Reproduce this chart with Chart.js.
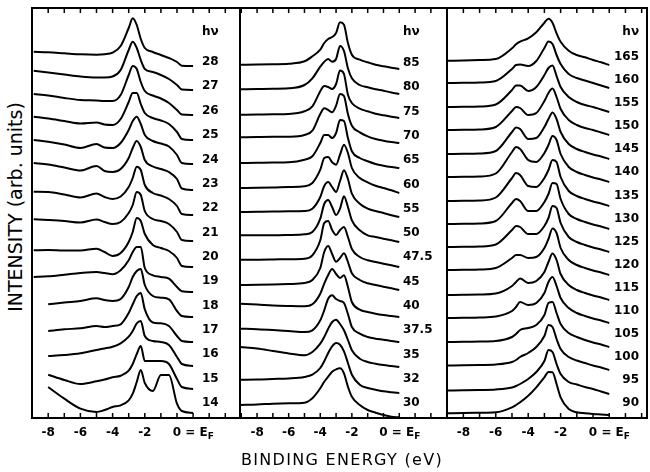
<!DOCTYPE html>
<html>
<head>
<meta charset="utf-8">
<script src="https://cdn.jsdelivr.net/npm/chart.js@4.4.1/dist/chart.umd.min.js"></script>
<style>
  body { margin: 0; background: #fff; }
  #fig { position: relative; width: 650px; height: 472px; background: #fff; overflow: hidden; }
  .panel { position: absolute; top: 6px; }
  #ytitle { position: absolute; left: 15px; top: 207px; transform: translate(-50%, -50%) rotate(-90deg);
            font: 19px 'DejaVu Sans'; white-space: nowrap; color: #000; }
  #xtitle { position: absolute; left: 342px; top: 459px; transform: translate(-50%, -50%);
            font: 16px 'DejaVu Sans'; letter-spacing: 1.3px; white-space: nowrap; color: #000; }
</style>
</head>
<body>
<div id="fig">
  <div class="panel" style="left:30px"><canvas id="p1" width="212" height="452"></canvas></div>
  <div class="panel" style="left:238px"><canvas id="p2" width="211" height="452"></canvas></div>
  <div class="panel" style="left:445px"><canvas id="p3" width="204" height="452"></canvas></div>
  <div id="ytitle">INTENSITY (arb. units)</div>
  <div id="xtitle">BINDING ENERGY (eV)</div>
</div>
<script>
const p1Energy = [-8.9, -8, -7, -6, -5, -4.5, -4, -3.5, -3, -2.75, -2.5, -2.25, -2, -1.5, -1, -0.5, 0, 0.3, 1];
const p2Energy = [-9.05, -8, -7, -6, -5, -4.5, -4, -3.75, -3.5, -3.25, -3, -2.75, -2.5, -2.25, -2, -1.5, -1, -0.5, 0, 0.5, 1];
const p3Energy = [-8.95, -8, -7, -6, -5, -4.75, -4.5, -4, -3.5, -3, -2.75, -2.5, -2.25, -2, -1.5, -1, -0.5, 0, 0.5, 1];

// photon energies, top to bottom
const p1Photon = ['28', '27', '26', '25', '24', '23', '22', '21', '20', '19', '18', '17', '16', '15', '14'];
const p2Photon = ['85', '80', '75', '70', '65', '60', '55', '50', '47.5', '45', '40', '37.5', '35', '32', '30'];
const p3Photon = ['165', '160', '155', '150', '145', '140', '135', '130', '125', '120', '115', '110', '105', '100', '95', '90'];

// vertical offset of each spectrum (arb. units)
const p1Offset = [352, 328, 303, 278, 254, 228, 203, 177, 151, 126, 101, 76, 52, 29, 5];
const p2Offset = [349, 324, 300, 275, 250, 225, 201, 176, 151, 128, 101, 76, 51, 25, 0];
const p3Offset = [353, 330, 306, 283, 259, 236, 212, 189, 166, 143, 118, 95, 71, 48, 24, 3];

// intensities (arb. units) on the energy grids above
const p1Spectra = [
  [14.3, 13.7, 12.7, 11.7, 11.3, 11.7, 13.3, 20, 38, 47.7, 41, 27, 18, 14, 11, 8, 4, 0.3, 0],       // 28
  [19.3, 17.5, 15.5, 13.5, 12.5, 12.5, 13.5, 20, 40, 48.3, 42, 30, 21, 18, 15, 11, 5, 0.5, 0],      // 27
  [21, 19.5, 17, 15, 14.5, 14, 14, 20, 40, 49, 46, 33, 24, 19.5, 16.5, 12, 5, 0.5, 0],              // 26
  [23.3, 21.5, 19, 16.5, 17.5, 15.5, 15, 21, 38, 47, 47, 36, 27, 22, 19.5, 16, 8, 1, 0],            // 25
  [24, 22.3, 19.5, 16, 20, 16.5, 16, 21, 34, 43, 47.3, 40, 29, 23, 20.5, 17.5, 9, 1, 0],            // 24
  [27, 25.5, 22.5, 19.5, 24, 19, 18, 21, 32, 42, 49, 43, 30, 23.5, 21, 18, 11, 1.5, 0],             // 23
  [23.3, 23, 20.5, 17.5, 21.5, 18, 16, 18.5, 28, 37, 48.3, 45, 30, 22, 19.5, 16, 9, 1, 0],          // 22
  [21.7, 21, 20, 18.5, 21.5, 19, 17, 19, 28, 36, 49, 46, 30, 22, 20, 17, 9, 1, 0],                  // 21
  [16.7, 17, 16.5, 16.5, 18.3, 15, 11, 14, 25, 35, 49, 46, 33, 22, 19, 16, 9, 1, 0],                // 20
  [15, 15.7, 17.3, 19, 20, 19, 17.7, 21.7, 31.7, 40, 45, 45, 24, 16.7, 15, 13.3, 5, 0.7, 0],        // 19
  [null, 12.7, 14.5, 16, 18.7, 17, 16, 18, 30, 40, 46, 48, 32, 21, 19.3, 17.7, 6, 1, 0],            // 18
  [null, 11, 12.7, 13.7, 16, 15, 16, 17.7, 29, 37.7, 46, 49, 32.7, 19.5, 18.7, 16, 6, 1, 0],        // 17
  [null, 10, 11, 12.7, 16, 17.5, 19.3, 22.7, 29.3, 35, 42.7, 45, 30, 25, 24, 21, 9, 2, 0],          // 16
  [null, 14.3, 9, 5, 7.7, 9.5, 11.7, 13.3, 18.3, 25, 35, 43, 28, 28, 28, 25, 10, 2, 0],             // 15
  [null, 26, 14.3, 4.3, 1, 3, 6, 7.7, 12.7, 19.3, 31, 43, 30, 22, 38, 38, 9.3, 2, 0]                // 14
];

const p2Spectra = [
  [4.3, 4.5, 4.8, 5.3, 7.7, 12.7, 19.3, 26, 30, 32, 36, 46.7, 44.3, 26, 14.3, 9.3, 6.7, 4.3, 2.7, 1.3, 0],   // 85
  [4.7, 5, 5.3, 5.7, 9, 15.7, 27.3, 32.3, 35, 32.3, 35, 48, 43, 25.7, 15.7, 9, 6.7, 4.7, 3.3, 1.5, 0],       // 80
  [3.3, 3.5, 3.7, 4, 6.7, 11.7, 26.7, 32, 31, 29, 34, 47.5, 44, 23.3, 15, 9.3, 6.7, 4.3, 2.7, 1.3, 0],       // 75
  [5.7, 6, 6.2, 6.3, 8, 12.3, 29, 34.7, 33, 30.7, 37.3, 49, 47, 29, 17.3, 10.7, 6.7, 4, 2.3, 1, 0],          // 70
  [5, 5.2, 5.4, 5.7, 8.3, 11.7, 25, 33, 33, 30, 35, 48, 47, 30, 16.7, 10, 6.7, 4, 2.3, 1, 0],                // 65
  [5, 5.2, 5.5, 6, 6.7, 10, 23.3, 35, 36, 30.7, 28.3, 38.3, 48.3, 40, 25, 15, 10.7, 7.3, 5, 2.7, 0],         // 60
  [5, 5.2, 5.4, 5.7, 6, 8.3, 20, 31, 35, 30, 25, 36, 46.7, 38, 23.3, 13.3, 8.3, 6, 4, 1.7, 0],               // 55
  [6.7, 6.7, 6.7, 7, 7.7, 10, 23.3, 38, 42, 35, 27, 33.3, 45.7, 35, 21.7, 11.7, 6.7, 5, 3.3, 1.7, 0],        // 50
  [7.3, 7.3, 7.5, 7.8, 8.3, 11.7, 26.7, 44, 46, 37, 32, 37, 40, 30, 18, 10, 6.7, 5, 3.3, 1.7, 0],            // 47.5
  [5, 5.2, 5.5, 6, 7, 10, 22, 38, 44, 36, 28.3, 32, 36.7, 28, 16.7, 10, 6.7, 5, 3.3, 1.7, 0],                // 45
  [13.3, 12.5, 11.5, 11, 10.7, 12.7, 23.3, 33.3, 42, 48, 43, 39, 41.7, 30, 15, 7.3, 5, 3.3, 2, 1, 0],        // 40
  [13.3, 12.8, 12, 11, 10, 11.7, 21.7, 31.7, 43.3, 46.7, 43, 41, 39, 28, 15, 8.3, 5, 3.3, 2.3, 1, 0],        // 37.5
  [20, 18.5, 16, 13.5, 11.7, 15, 23.3, 30, 38.3, 45, 47.3, 43, 36.7, 27, 16.7, 8.3, 5, 3.3, 2, 1, 0],        // 35
  [13.3, 13.5, 14, 14.5, 16, 18.3, 25, 31.7, 40, 46.7, 50, 48.3, 41.7, 30, 18.3, 8.3, 5, 3.3, 1.7, 0.8, 0],  // 32
  [13, 13.5, 14.3, 14.7, 15.3, 19.7, 29.7, 36.3, 41.3, 46.3, 48.7, 49.7, 44.7, 31.3, 21.3, 13, 8, 5.3, 3, 1.3, 0.7] // 30
];

const p3Spectra = [
  [4.3, 4.5, 5, 6, 16.7, 20.7, 23.3, 26.7, 32.7, 42.3, 46.3, 42.3, 31.7, 23.3, 14.3, 10, 7.7, 5, 2.7, 0],  // 165
  [5, 5.2, 5.5, 7, 19, 23, 23.5, 22, 27, 40, 46.5, 44, 33, 24, 14, 10, 7.5, 5, 2.5, 0],                   // 160
  [5, 5.2, 5.5, 7.5, 22, 26.5, 26.5, 21, 25, 37, 44, 46.5, 36, 25, 15, 10, 7, 5, 2.5, 0],                 // 155
  [5, 5.2, 5.5, 8, 24, 28, 27, 20, 22, 34, 42, 46.5, 38, 26, 15, 10, 7, 5, 2.5, 0],                       // 150
  [5, 5.2, 5.5, 8, 27, 31.5, 30, 20, 21, 32, 40, 46.5, 40, 27, 15, 10, 7, 4.5, 2.5, 0],                   // 145
  [5, 5.2, 5.5, 8.5, 30, 35, 33, 22, 20, 29, 37, 46, 42, 28, 15, 10, 7, 4.5, 2.5, 0],                     // 140
  [5, 5.2, 5.5, 8.5, 28, 33, 31, 20, 19, 28, 36, 46, 44, 29, 15, 10, 7, 4.5, 2.5, 0],                     // 135
  [5, 5.2, 5.5, 8, 26, 30, 28, 18, 18, 27, 35, 46, 45, 30, 15, 10, 7, 4.5, 2.5, 0],                       // 130
  [5, 5.2, 5.5, 7.5, 22, 26, 25, 18, 18, 26, 34, 46, 44, 29, 15, 10, 7, 4.5, 2.5, 0],                     // 125
  [5, 5.2, 5.5, 7, 17, 20, 20, 17, 18, 27, 36, 46.5, 42, 27, 15, 10, 7, 4.5, 2.5, 0],                     // 120
  [5, 5.2, 5.5, 6.5, 14, 18, 21.5, 17, 19, 28, 38, 46.5, 40, 26, 15, 10, 7, 4.5, 2.5, 0],                 // 115
  [5, 5.2, 5.5, 6.5, 12, 16, 21, 18, 20, 30, 41, 46, 37, 25, 15, 10, 7, 4.5, 2.5, 0],                     // 110
  [5, 5.2, 5.5, 6, 10, 13, 17, 19, 22, 32, 44, 45, 34, 23, 14, 10, 7, 4.5, 2.5, 0],                       // 105
  [4.5, 4.7, 5, 5.5, 8, 10, 13, 17, 23, 34, 45, 43, 31, 21, 13, 9.5, 7, 4.5, 2.5, 0],                     // 100
  [3.5, 3.7, 4, 4.5, 6.5, 8, 10, 15, 22, 33, 44, 42, 30, 20, 12, 9.5, 7, 5, 2.5, 0],                      // 95
  [1.7, 2, 2.2, 2.7, 7.7, 10, 12.7, 19.3, 27.7, 37.7, 43, 42.7, 31, 17.7, 6, 2.7, 1.7, 1, 0.5, 0]         // 90
];

const tickValues = [-8, -6, -4, -2, 0];
const FONT = '"DejaVu Sans"';

// frame, inward ticks, "= E_F" and the h-nu column
const framePlugin = {
    id: 'frame',
    afterDraw(chart) {
        const { ctx, chartArea: a, scales: { x, y } } = chart;
        const cfg = chart.config.options.panel;
        ctx.save();
        ctx.strokeStyle = '#000';
        ctx.fillStyle = '#000';
        ctx.lineWidth = 2;
        ctx.strokeRect(a.left, a.top, a.right - a.left, a.bottom - a.top);

        ctx.lineWidth = 1.5;
        for (let e = Math.ceil(x.min); e <= Math.floor(x.max); e++) {
            const px = x.getPixelForValue(e);
            ctx.beginPath();
            ctx.moveTo(px, a.bottom); ctx.lineTo(px, a.bottom - 5);
            ctx.moveTo(px, a.top); ctx.lineTo(px, a.top + 5);
            ctx.stroke();
        }

        ctx.font = 'bold 12px ' + FONT;
        ctx.textBaseline = 'middle';
        ctx.textAlign = 'left';
        const ty = a.bottom + 15;
        const x0 = x.getPixelForValue(0) + ctx.measureText('0').width / 2;
        ctx.fillText(' = E', x0, ty);
        const wE = ctx.measureText(' = E').width;
        ctx.font = 'bold 9px ' + FONT;
        ctx.fillText('F', x0 + wE, ty + 4);

        ctx.font = 'bold 12px ' + FONT;
        ctx.textAlign = cfg.align;
        const lx = x.getPixelForValue(cfg.labelE);
        ctx.fillText('hν', lx, y.getPixelForValue(cfg.hvAt));
        cfg.photon.forEach(function (p, i) {
            ctx.fillText(p, lx, y.getPixelForValue(cfg.labelTop - i * cfg.labelStep));
        });
        ctx.restore();
    }
};

function makePanel(canvasId, energy, photon, offsets, spectra, panel) {
    const datasets = spectra.map(function (vals, i) {
        return {
            label: 'hν = ' + photon[i] + ' eV',
            data: energy.map(function (e, j) {
                return { x: e, y: vals[j] === null ? null : offsets[i] + vals[j] };
            }),
            borderColor: '#000',
            borderWidth: 2,
            pointRadius: 0,
            fill: false,
            cubicInterpolationMode: 'monotone'
        };
    });
    panel.photon = photon;

    return new Chart(document.getElementById(canvasId), {
        type: 'line',
        data: { datasets: datasets },
        plugins: [framePlugin],
        options: {
            panel: panel,
            responsive: false,
            animation: false,
            devicePixelRatio: 1,
            layout: { padding: { left: 2, right: 2, top: 2, bottom: 0 } },
            plugins: { legend: { display: false }, tooltip: { enabled: false } },
            scales: {
                x: {
                    type: 'linear',
                    min: panel.xMin,
                    max: panel.xMax,
                    afterBuildTicks: function (s) { s.ticks = tickValues.map(v => ({ value: v })); },
                    afterFit: function (s) { s.height = 40; },
                    ticks: {
                        autoSkip: false,
                        maxRotation: 0,
                        padding: 8,
                        color: '#000',
                        font: { family: 'DejaVu Sans', size: 12, weight: 'bold' },
                        callback: function (value) { return String(value); }
                    },
                    grid: { display: false, drawTicks: false },
                    border: { display: false }
                },
                y: { display: false, min: 0, max: 410 }
            }
        }
    });
}

makePanel('p1', p1Energy, p1Photon, p1Offset, p1Spectra,
    { xMin: -9.006, xMax: 3.913, labelE: 1.55, align: 'left', hvAt: 386, labelTop: 356, labelStep: 24.36 });
makePanel('p2', p2Energy, p2Photon, p2Offset, p2Spectra,
    { xMin: -9.08, xMax: 4.02, labelE: 1.23, align: 'left', hvAt: 386, labelTop: 355, labelStep: 24.29 });
makePanel('p3', p3Energy, p3Photon, p3Offset, p3Spectra,
    { xMin: -9.01, xMax: 3.33, labelE: 2.84, align: 'right', hvAt: 386, labelTop: 361, labelStep: 23.07 });
</script>
</body>
</html>
